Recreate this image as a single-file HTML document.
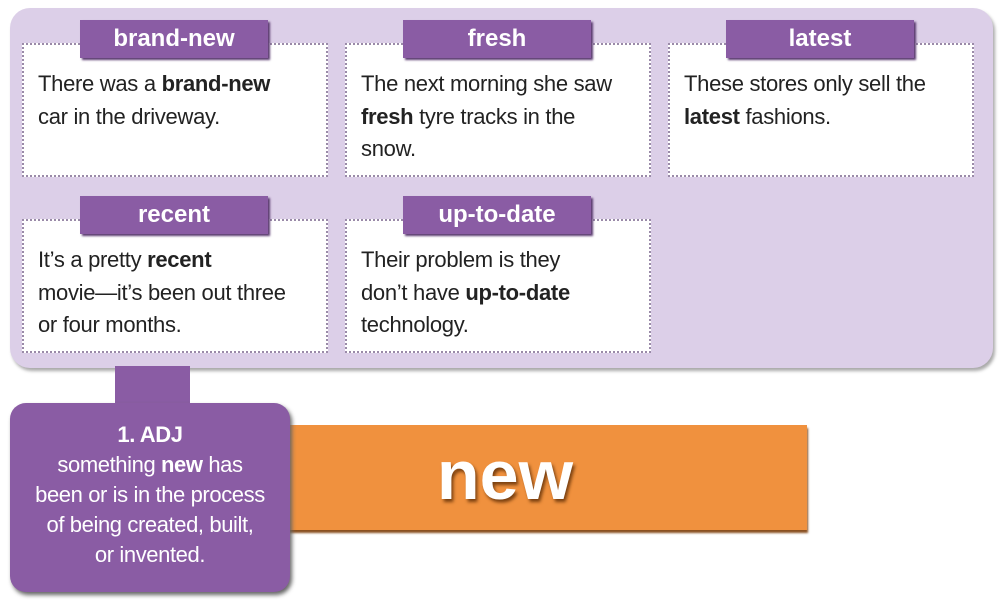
<!DOCTYPE html>
<html><head><style>
body{margin:0;width:1000px;height:613px;background:#fff;position:relative;overflow:hidden;font-family:"Liberation Sans",sans-serif}
.panel{position:absolute;left:10px;top:8px;width:983px;height:360px;background:#dccfe8;border-radius:20px;box-shadow:2px 3px 3px #aaa}
.card{position:absolute;width:306px;height:134px;background:#fff;border:2px dotted #9a8aa8;box-sizing:border-box}
.card p{margin:0;position:absolute;left:14px;top:23px;font-size:22px;line-height:32.5px;color:#222;letter-spacing:-0.3px;width:290px}
.lab{position:absolute;height:38px;width:188px;background:#8a5ca4;color:#fff;font-weight:bold;font-size:24px;text-align:center;line-height:38px;box-shadow:2px 2px 2px #5a3a70}
.stem{position:absolute;left:115px;top:366px;width:75px;height:42px;background:#8a5ca4}
.def{position:absolute;left:10px;top:403px;width:280px;height:189px;background:#8a5ca4;border-radius:16px;color:#fff;text-align:center;font-size:22px;line-height:30px;box-shadow:2px 3px 4px #666;letter-spacing:-0.4px}
.bar{position:absolute;left:285px;top:425px;width:522px;height:105px;background:#f0913e;box-shadow:1px 3px 2px #8a5020}
.bar span{position:absolute;left:0;width:440px;top:10px;text-align:center;font-size:70px;font-weight:bold;color:#fff;text-shadow:2px 3px 3px #7a4010}
</style></head><body>
<div class="panel"></div>
<div class="card" style="left:22px;top:43px"><p>There was a <b>brand-new</b><br>car in the driveway.</p></div>
<div class="card" style="left:345px;top:43px"><p>The next morning she saw<br><b>fresh</b> tyre tracks in the<br>snow.</p></div>
<div class="card" style="left:668px;top:43px"><p>These stores only sell the<br><b>latest</b> fashions.</p></div>
<div class="card" style="left:22px;top:219px"><p>It’s a pretty <b>recent</b><br>movie—it’s been out three<br>or four months.</p></div>
<div class="card" style="left:345px;top:219px"><p>Their problem is they<br>don’t have <b>up-to-date</b><br>technology.</p></div>
<div class="lab" style="left:80px;top:20px">brand-new</div>
<div class="lab" style="left:403px;top:20px">fresh</div>
<div class="lab" style="left:726px;top:20px">latest</div>
<div class="lab" style="left:80px;top:196px">recent</div>
<div class="lab" style="left:403px;top:196px">up-to-date</div>
<div class="stem"></div>
<div class="bar"><span>new</span></div>
<div class="def"><div style="padding-top:17px"><b>1. ADJ</b><br>something <b>new</b> has<br>been or is in the process<br>of being created, built,<br>or invented.</div></div>
</body></html>
